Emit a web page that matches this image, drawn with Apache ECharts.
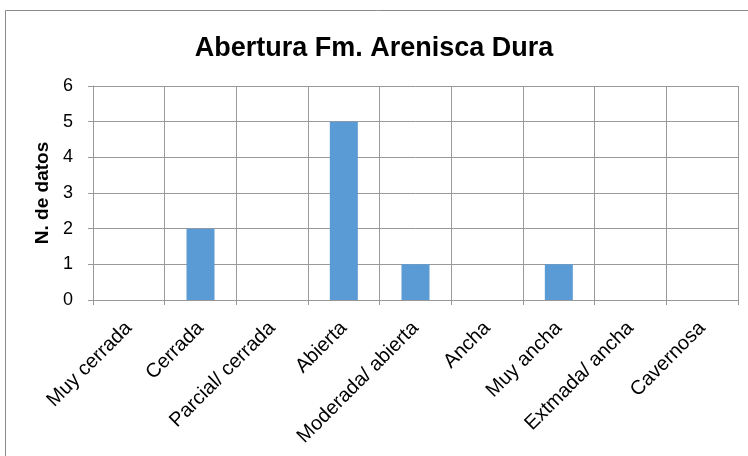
<!DOCTYPE html>
<html>
<head>
<meta charset="utf-8">
<script src="https://cdn.jsdelivr.net/npm/echarts@6/dist/echarts.min.js"></script>
<style>
  html, body { margin: 0; padding: 0; background: #fff; }
  #chart { width: 748px; height: 456px; }
</style>
</head>
<body>
<div id="chart"></div>
<script>
// Aperture classes and number of records per class
const categories = ['Muy cerrada', 'Cerrada', 'Parcial/ cerrada', 'Abierta', 'Moderada/ abierta', 'Ancha', 'Muy ancha', 'Extmada/ ancha', 'Cavernosa'];
const counts = [0, 2, 0, 5, 1, 0, 1, 0, 0];
const yTicks = [0, 1, 2, 3, 4, 5, 6];

const chart = echarts.init(document.getElementById('chart'), null, { renderer: 'canvas' });
const gridColor = '#999999';
const font = 'Liberation Sans, Arial, sans-serif';

chart.setOption({
  animation: false,
  backgroundColor: '#ffffff',
  title: {
    text: 'Abertura Fm. Arenisca Dura',
    left: 'center',
    top: 30,
    textStyle: { fontFamily: font, fontSize: 27, fontWeight: 'bold', color: '#000' }
  },
  graphic: [{
    type: 'rect',
    shape: { x: 5.5, y: 10.5, width: 760, height: 460 },
    style: { fill: 'none', stroke: '#8a8a8a', lineWidth: 1 },
    silent: true
  }],
  grid: { left: 93, right: 10, top: 86, bottom: 156, containLabel: false },
  xAxis: {
    type: 'category',
    data: categories,
    boundaryGap: true,
    axisLine: { show: true, lineStyle: { color: gridColor, width: 1 } },
    axisTick: { show: true, length: 5, alignWithLabel: false, lineStyle: { color: gridColor } },
    splitLine: { show: true, lineStyle: { color: gridColor, width: 1 } },
    axisLabel: {
      rotate: 45,
      interval: 0,
      margin: 25,
      fontFamily: font,
      fontSize: 20,
      color: '#000'
    }
  },
  yAxis: {
    type: 'value',
    min: yTicks[0],
    max: yTicks[yTicks.length - 1],
    interval: 1,
    name: 'N. de datos',
    nameLocation: 'middle',
    nameGap: 38,
    nameRotate: 90,
    nameTextStyle: { fontFamily: font, fontSize: 19, fontWeight: 'bold', color: '#000' },
    axisLine: { show: true, lineStyle: { color: gridColor, width: 1 } },
    axisTick: { show: true, length: 5, lineStyle: { color: gridColor } },
    splitLine: { show: true, lineStyle: { color: gridColor, width: 1 } },
    axisLabel: { margin: 20, fontFamily: font, fontSize: 18, color: '#000' }
  },
  series: [{
    type: 'bar',
    data: counts,
    barWidth: 28,
    itemStyle: { color: '#5B9BD5' }
  }]
});
</script>
</body>
</html>
